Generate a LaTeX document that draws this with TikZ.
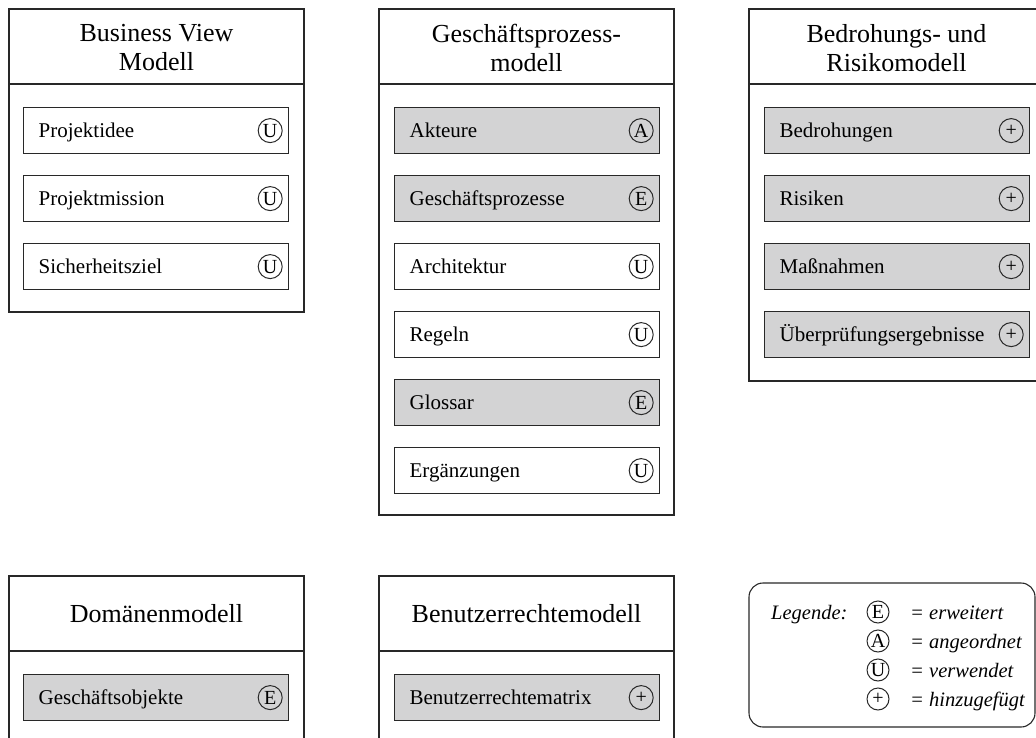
\documentclass[tikz,border=0pt]{standalone}
\usepackage{fontspec}
\setmainfont{Liberation Serif}
\definecolor{edge}{RGB}{40,40,40}
\definecolor{itemgray}{RGB}{211,211,212}
\begin{document}
\begin{tikzpicture}[x=1pt,y=-1pt,
  frame/.style={draw=edge, line width=1.3pt},
  title/.style={align=center, font=\fontsize{26}{29}\selectfont, inner sep=0pt},
  item/.style={draw=edge, line width=1.2pt, anchor=north west, minimum height=46pt,
    text width=235pt, inner xsep=15pt, inner ysep=0pt, align=left,
    text height=17pt, text depth=3pt,
    font=\fontsize{21}{24}\selectfont},
  shaded/.style={item, fill=itemgray},
  tag/.style={circle, draw=edge, line width=1pt, minimum size=24pt, inner sep=0pt,
    font=\fontsize{20}{20}\selectfont},
  keytag/.style={circle, draw=edge, line width=1pt, minimum size=22pt, inner sep=0pt,
    font=\fontsize{20}{20}\selectfont},
  keytext/.style={anchor=base west, inner sep=0pt, font=\fontsize{20.5}{24}\itshape}]

\useasboundingbox (0,0) rectangle (1036,738);
\clip (0,0) rectangle (1036,738);

% ---------- Business View Modell ----------
\draw[frame] (9,9) rectangle (304,312);
\draw[frame] (9,84) -- (304,84);
\node[title] (t1) at (156.5,48) {Business View\\Modell};
\node[item] (p1) at (23,107) {Projektidee};
\node[item] (p2) at (23,175) {Projektmission};
\node[item] (p3) at (23,243) {Sicherheitsziel};
\node[tag] (m1) at ([xshift=-19pt]p1.east) {U};
\node[tag] (m2) at ([xshift=-19pt]p2.east) {U};
\node[tag] (m3) at ([xshift=-19pt]p3.east) {U};

% ---------- Geschäftsprozessmodell ----------
\draw[frame] (379,9) rectangle (674,515);
\draw[frame] (379,84) -- (674,84);
\node[title] (t2) at (526.5,48) {Geschäftsprozess-\\modell};
\node[shaded] (g1) at (394,107) {Akteure};
\node[shaded] (g2) at (394,175) {Geschäftsprozesse};
\node[item]   (g3) at (394,243) {Architektur};
\node[item]   (g4) at (394,311) {Regeln};
\node[shaded] (g5) at (394,379) {Glossar};
\node[item]   (g6) at (394,447) {Ergänzungen};
\node[tag] (n1) at ([xshift=-19pt]g1.east) {A};
\node[tag] (n2) at ([xshift=-19pt]g2.east) {E};
\node[tag] (n3) at ([xshift=-19pt]g3.east) {U};
\node[tag] (n4) at ([xshift=-19pt]g4.east) {U};
\node[tag] (n5) at ([xshift=-19pt]g5.east) {E};
\node[tag] (n6) at ([xshift=-19pt]g6.east) {U};

% ---------- Bedrohungs- und Risikomodell ----------
\draw[frame] (749,9) rectangle (1044,381);
\draw[frame] (749,84) -- (1044,84);
\node[title] (t3) at (896.5,48) {Bedrohungs- und\\Risikomodell};
\node[shaded] (b1) at (764,107) {Bedrohungen};
\node[shaded] (b2) at (764,175) {Risiken};
\node[shaded] (b3) at (764,243) {Maßnahmen};
\node[shaded] (b4) at (764,311) {Überprüfungsergebnisse};
\node[tag] (o1) at ([xshift=-19pt]b1.east) {+};
\node[tag] (o2) at ([xshift=-19pt]b2.east) {+};
\node[tag] (o3) at ([xshift=-19pt]b3.east) {+};
\node[tag] (o4) at ([xshift=-19pt]b4.east) {+};

% ---------- Domänenmodell ----------
\draw[frame] (9,576) rectangle (304,760);
\draw[frame] (9,651) -- (304,651);
\node[title] (t4) at (156.5,614) {Domänenmodell};
\node[shaded] (d1) at (23,674) {Geschäftsobjekte};
\node[tag] (q1) at ([xshift=-19pt]d1.east) {E};

% ---------- Benutzerrechtemodell ----------
\draw[frame] (379,576) rectangle (674,760);
\draw[frame] (379,651) -- (674,651);
\node[title] (t5) at (526.5,614) {Benutzerrechtemodell};
\node[shaded] (r1) at (394,674) {Benutzerrechtematrix};
\node[tag] (s1) at ([xshift=-19pt]r1.east) {+};

% ---------- Legende ----------
\draw[frame, line width=1.1pt, rounded corners=14pt] (749,583) rectangle (1035,727);
\node[keytext] (lg) at (771,619) {Legende:};
\node[keytag] (k1) at (878,612) {E};
\node[keytag] (k2) at (878,641) {A};
\node[keytag] (k3) at (878,670) {U};
\node[keytag] (k4) at (878,699) {+};
\node[keytext] (e1) at (910,619) {= erweitert};
\node[keytext] (e2) at (910,648) {= angeordnet};
\node[keytext] (e3) at (910,677) {= verwendet};
\node[keytext] (e4) at (910,706) {= hinzugefügt};
\end{tikzpicture}
\end{document}
